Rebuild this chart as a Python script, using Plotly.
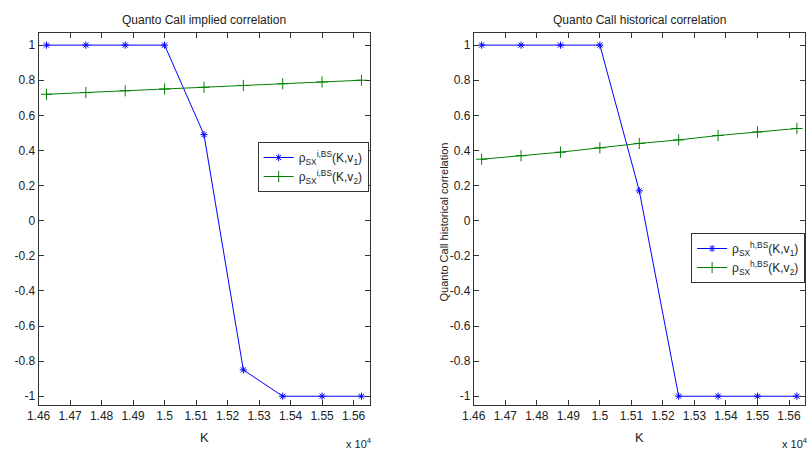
import plotly.graph_objects as go

K = [14625, 14750, 14875, 15000, 15125, 15250, 15375, 15500, 15625]
implied_v1 = [1, 1, 1, 1, 0.49, -0.85, -1, -1, -1]
implied_v2 = [0.72, 0.73, 0.74, 0.75, 0.76, 0.77, 0.78, 0.79, 0.80]
hist_v1 = [1, 1, 1, 1, 0.17, -1, -1, -1, -1]
hist_v2 = [0.35, 0.37, 0.39, 0.415, 0.44, 0.46, 0.485, 0.505, 0.525]

x_tickvals = [14600, 14700, 14800, 14900, 15000, 15100, 15200, 15300, 15400, 15500, 15600]
x_ticktext = ["1.46", "1.47", "1.48", "1.49", "1.5", "1.51", "1.52", "1.53", "1.54", "1.55", "1.56"]
y_tickvals = [-1, -0.8, -0.6, -0.4, -0.2, 0, 0.2, 0.4, 0.6, 0.8, 1]
y_ticktext = ["-1", "-0.8", "-0.6", "-0.4", "-0.2", "0", "0.2", "0.4", "0.6", "0.8", "1"]

FONT = "Liberation Sans Narrow, Arial Narrow, Liberation Sans, sans-serif"
BLUE = "#0000ff"
GREEN = "#008000"
AXC = "#333"

fig = go.Figure()

def add(x, y, name, color, symbol, size, xa, ya, leg):
    fig.add_trace(go.Scatter(x=x, y=y, mode="lines+markers", xaxis=xa, yaxis=ya, name=name,
                             line=dict(color=color, width=1),
                             marker=dict(symbol=symbol, size=size, color=color,
                                         line=dict(color=color, width=1)),
                             legend=leg))

add(K, implied_v1, "ρ<sub>SX</sub><sup>i,BS</sup>(K,v<sub>1</sub>)", BLUE, "asterisk-open", 6, "x", "y", "legend")
add(K, implied_v2, "ρ<sub>SX</sub><sup>i,BS</sup>(K,v<sub>2</sub>)", GREEN, "cross-thin-open", 8, "x", "y", "legend")
add(K, hist_v1, "ρ<sub>SX</sub><sup>h,BS</sup>(K,v<sub>1</sub>)", BLUE, "asterisk-open", 6, "x2", "y2", "legend2")
add(K, hist_v2, "ρ<sub>SX</sub><sup>h,BS</sup>(K,v<sub>2</sub>)", GREEN, "cross-thin-open", 8, "x2", "y2", "legend2")

ax_common = dict(showgrid=False, zeroline=False, showline=True, linecolor=AXC, linewidth=1,
                 mirror="ticks", ticks="inside", ticklen=5, tickcolor=AXC,
                 tickfont=dict(family=FONT, size=12, color="#222"))

xr = [14600, 15651]
yr = [-1.05, 1.069]
y_dom = [1 - 405 / 460, 1 - 33 / 460]

fig.update_layout(
    width=812, height=460, margin=dict(l=0, r=0, t=0, b=0),
    paper_bgcolor="white", plot_bgcolor="white",
    font=dict(family=FONT, size=12, color="#222"),
    xaxis=dict(domain=[27 / 812, 363 / 812], range=xr, tickvals=x_tickvals, ticktext=x_ticktext,
               anchor="y", **ax_common),
    yaxis=dict(domain=y_dom, range=yr, tickvals=y_tickvals, ticktext=y_ticktext, anchor="x", **ax_common),
    xaxis2=dict(domain=[468.7 / 812, 805 / 812], range=xr, tickvals=x_tickvals, ticktext=x_ticktext,
                anchor="y2", **ax_common),
    yaxis2=dict(domain=y_dom, range=yr, tickvals=y_tickvals, ticktext=y_ticktext, anchor="x2", **ax_common),
    legend=dict(x=362 / 812, y=1 - 142 / 460, xanchor="right", yanchor="top",
                bgcolor="white", bordercolor=AXC, borderwidth=1, itemwidth=30,
                font=dict(family=FONT, size=12, color="#222")),
    legend2=dict(x=805 / 812, y=1 - 233 / 460, xanchor="right", yanchor="top",
                 bgcolor="white", bordercolor=AXC, borderwidth=1, itemwidth=30,
                 font=dict(family=FONT, size=12, color="#222")),
    showlegend=True,
)

annots = [
    dict(text="Quanto Call implied correlation", x=195 / 812, y=1 - 20 / 460, size=12),
    dict(text="Quanto Call historical correlation", x=637 / 812, y=1 - 20 / 460, size=12),
    dict(text="K", x=195 / 812, y=1 - 437 / 460, size=13),
    dict(text="K", x=637 / 812, y=1 - 437 / 460, size=13),
    dict(text="x 10<sup>4</sup>", x=352 / 812, y=1 - 443 / 460, size=11),
    dict(text="x 10<sup>4</sup>", x=795 / 812, y=1 - 443 / 460, size=11),
]
for a in annots:
    fig.add_annotation(text=a["text"], x=a["x"], y=a["y"], xref="paper", yref="paper",
                       showarrow=False, xanchor="center", yanchor="middle",
                       font=dict(family=FONT, size=a["size"], color="#222"))

fig.add_annotation(text="Quanto Call historical correlation", x=438 / 812, y=1 - 222 / 460,
                   xref="paper", yref="paper", showarrow=False, textangle=-90,
                   xanchor="center", yanchor="middle",
                   font=dict(family="Liberation Sans, Arial, sans-serif", size=11, color="#222"))

fig.write_html("out.html")
